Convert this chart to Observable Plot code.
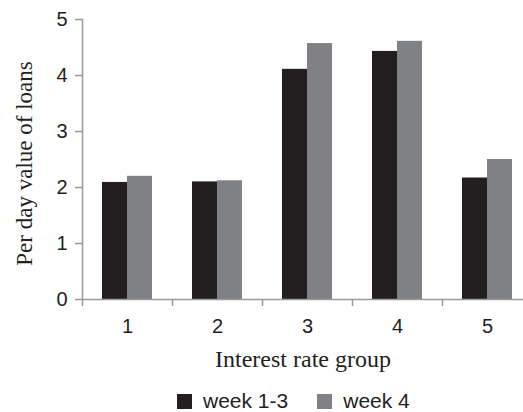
<!DOCTYPE html>
<html>
<head>
<meta charset="utf-8">
<script src="https://cdn.jsdelivr.net/npm/d3@7"></script>
<script src="https://cdn.jsdelivr.net/npm/@observablehq/plot@0.6"></script>
<style>
  body { margin: 0; background: #fff; }
  #chart { width: 523px; }
  .legend { display: flex; align-items: center; padding-left: 177px; margin-top: 8px; height: 26px;
    font-family: "Liberation Sans", Arial, sans-serif; font-size: 21px; color: #231f20; }
  .legend .sw { width: 15px; height: 15px; display: inline-block; margin-right: 11px; }
  .legend .item { display: flex; align-items: center; margin-right: 29px; }
</style>
</head>
<body>
<div id="chart"></div>
<script>
const groups = ["1", "2", "3", "4", "5"];
const seriesNames = ["week 1-3", "week 4"];
const week13 = [2.09, 2.10, 4.11, 4.43, 2.17];
const week4 = [2.20, 2.12, 4.57, 4.61, 2.50];
const yTicks = [0, 1, 2, 3, 4, 5];
const colors = ["#231f20", "#808184"];

const data1 = groups.map((g, i) => ({group: g, value: week13[i]}));
const data2 = groups.map((g, i) => ({group: g, value: week4[i]}));

const axisColor = "#9a9a9a";
const plot = Plot.plot({
  width: 523,
  height: 380,
  marginLeft: 82,
  marginRight: 0,
  marginTop: 19,
  marginBottom: 81,
  style: {fontFamily: "'Liberation Sans', Arial, sans-serif", color: "#231f20", background: "#fff"},
  x: {domain: groups, range: [82, 532], padding: 0},
  y: {domain: [0, 5]},
  marks: [
    Plot.barY(data1, {x: "group", y: "value", fill: colors[0], insetLeft: 20, insetRight: 45}),
    Plot.barY(data2, {x: "group", y: "value", fill: colors[1], insetLeft: 45, insetRight: 20}),
    Plot.ruleY([0], {stroke: axisColor, strokeWidth: 1.5}),
    Plot.frame({anchor: "left", stroke: axisColor, strokeWidth: 1.5}),
    Plot.axisY({ticks: yTicks, tickFormat: "d", tickSize: 7, tickPadding: 8, fontSize: 20, stroke: axisColor, strokeWidth: 1.5, label: null}),
    Plot.axisX({ticks: groups, tickSize: 7, text: null, dx: -45, stroke: axisColor, strokeWidth: 1.5, label: null}),
    Plot.axisX({ticks: groups, tickSize: 0, tickPadding: 19, fontSize: 20, label: null}),
    Plot.text(["Interest rate group"], {frameAnchor: "bottom", dy: 60, text: d => d, fontSize: 24, fontFamily: "'Liberation Serif', 'Times New Roman', serif", fill: "#231f20", lineAnchor: "middle", textAnchor: "middle"}),
    Plot.text(["Per day value of loans"], {frameAnchor: "left", dx: -58, dy: 4, rotate: -90, textAnchor: "middle", text: d => d, fontSize: 23, fontFamily: "'Liberation Serif', 'Times New Roman', serif", fill: "#231f20"})
  ]
});
document.getElementById("chart").appendChild(plot);

const legend = document.createElement("div");
legend.className = "legend";
seriesNames.forEach((name, i) => {
  const item = document.createElement("span");
  item.className = "item";
  const sw = document.createElement("span");
  sw.className = "sw";
  sw.style.background = colors[i];
  item.appendChild(sw);
  item.appendChild(document.createTextNode(name));
  legend.appendChild(item);
});
document.getElementById("chart").appendChild(legend);
</script>
</body>
</html>
